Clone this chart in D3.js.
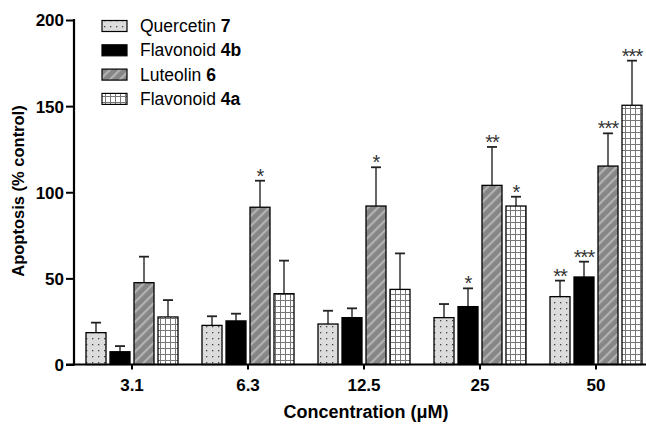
<!DOCTYPE html>
<html><head><meta charset="utf-8">
<script src="https://cdn.jsdelivr.net/npm/d3@7"></script>
<style>body{margin:0;background:#fff}svg{display:block}text{font-family:"Liberation Sans",Arial,sans-serif}</style>
</head><body>
<script>
const categories = ["3.1","6.3","12.5","25","50"];
const seriesNames = ["Quercetin","Flavonoid","Luteolin","Flavonoid"];
const seriesBold = ["7","4b","6","4a"];
const quercetin7 = [18.5,22.7,23.5,27.2,39.4];
const quercetin7Err = [5.8,5.3,7.7,7.9,9.3];
const flavonoid4b = [7.4,25.3,27.2,33.6,50.8];
const flavonoid4bErr = [3.3,4.2,5.4,10.6,8.9];
const luteolin6 = [47.5,91.3,92,104,115.2];
const luteolin6Err = [15.1,15.4,22.5,22.3,19];
const flavonoid4a = [27.6,41.1,43.6,92,150.5];
const flavonoid4aErr = [9.8,19.2,20.9,5.4,25.9];
const sigQ = ["","","","","**"];
const sig4b = ["","","","*","***"];
const sigL = ["","*","*","**","***"];
const sig4a = ["","","","*","***"];
const yTicks = [0,50,100,150,200];

const series = [
  {vals:quercetin7, err:quercetin7Err, sig:sigQ, fill:"url(#pDots)"},
  {vals:flavonoid4b, err:flavonoid4bErr, sig:sig4b, fill:"#000"},
  {vals:luteolin6, err:luteolin6Err, sig:sigL, fill:"url(#pStripe)"},
  {vals:flavonoid4a, err:flavonoid4aErr, sig:sig4a, fill:"url(#pGrid)"}
];

const W=646,H=425;
const svg=d3.select("body").append("svg").attr("width",W).attr("height",H);
const defs=svg.append("defs");
const pd=defs.append("pattern").attr("id","pDots").attr("patternUnits","userSpaceOnUse").attr("width",6).attr("height",6);
pd.append("rect").attr("width",6).attr("height",6).attr("fill","#dcdcdc");
pd.append("rect").attr("x",2).attr("y",2).attr("width",1.3).attr("height",1.3).attr("fill","#444");
const ps=defs.append("pattern").attr("id","pStripe").attr("patternUnits","userSpaceOnUse").attr("width",7).attr("height",7).attr("patternTransform","rotate(45)");
ps.append("rect").attr("width",7).attr("height",7).attr("fill","#868686");
ps.append("rect").attr("x",0).attr("width",2.2).attr("height",7).attr("fill","#b3b3b3");
const pg=defs.append("pattern").attr("id","pGrid").attr("patternUnits","userSpaceOnUse").attr("width",5).attr("height",6);
pg.append("rect").attr("width",5).attr("height",6).attr("fill","#fff");
pg.append("path").attr("d","M0,0.5H5M0.5,0V6").attr("stroke","#777").attr("stroke-width",1).attr("fill","none");

const x=d3.scaleBand().domain(categories).range([74,654]).paddingInner(0).paddingOuter(0);
const y=d3.scaleLinear().domain([0,200]).range([364.5,20]);
const bw=20, gap=4;

const g=svg.append("g");
categories.forEach((c,i)=>{
  const cx=x(c)+x.bandwidth()/2;
  series.forEach((s,j)=>{
    const x0=cx-2*bw-1.5*gap+j*(bw+gap);
    const v=s.vals[i], e=s.err[i];
    g.append("line").attr("x1",x0+bw/2).attr("x2",x0+bw/2).attr("y1",y(v)).attr("y2",y(v+e)).attr("stroke","#333").attr("stroke-width",1.5);
    g.append("line").attr("x1",x0+bw/2-5).attr("x2",x0+bw/2+5).attr("y1",y(v+e)).attr("y2",y(v+e)).attr("stroke","#222").attr("stroke-width",1.8);
    g.append("rect").attr("x",x0).attr("y",y(v)).attr("width",bw).attr("height",y(0)-y(v)).attr("fill",s.fill).attr("stroke","#000").attr("stroke-width",1.3);
    if(s.sig[i]) g.append("text").attr("x",x0+bw/2).attr("y",y(v+e)+2).attr("text-anchor","middle").attr("font-size",20).attr("fill","#333").attr("letter-spacing","-1px").text(s.sig[i]);
  });
});

const yAx=svg.append("g").attr("transform","translate(74,0)").call(d3.axisLeft(y).tickValues(yTicks).tickSize(8).tickPadding(2));
yAx.select(".domain").attr("stroke-width",2.2).attr("d","M0,19H0V365.5");
yAx.selectAll(".tick line").attr("stroke-width",2);
yAx.selectAll(".tick text").attr("font-size",17).attr("font-weight","bold").attr("fill","#000").attr("dy","0.35em");

const xAx=svg.append("g").attr("transform","translate(0,364.5)").call(d3.axisBottom(x).tickSize(5).tickPadding(9));
xAx.select(".domain").attr("stroke-width",2.2).attr("d","M66,0H646");
xAx.selectAll(".tick line").attr("stroke-width",2);
xAx.selectAll(".tick text").attr("font-size",17).attr("font-weight","bold").attr("fill","#000");

svg.append("text").attr("transform","translate(24,191) rotate(-90)").attr("text-anchor","middle").attr("font-size",16.5).attr("font-weight","bold").text("Apoptosis (% control)");
svg.append("text").attr("x",366).attr("y",418).attr("text-anchor","middle").attr("font-size",18).attr("font-weight","bold").text("Concentration (μM)");

series.forEach((s,j)=>{
  const yy=26+j*24.3;
  svg.append("rect").attr("x",102).attr("y",yy-5.5).attr("width",25).attr("height",11).attr("fill",s.fill).attr("stroke","#000").attr("stroke-width",1.2);
  const t=svg.append("text").attr("x",140).attr("y",yy+6).attr("font-size",17.5).attr("fill","#000");
  t.append("tspan").text(seriesNames[j]+" ");
  t.append("tspan").attr("font-weight","bold").text(seriesBold[j]);
});
</script>
</body></html>
